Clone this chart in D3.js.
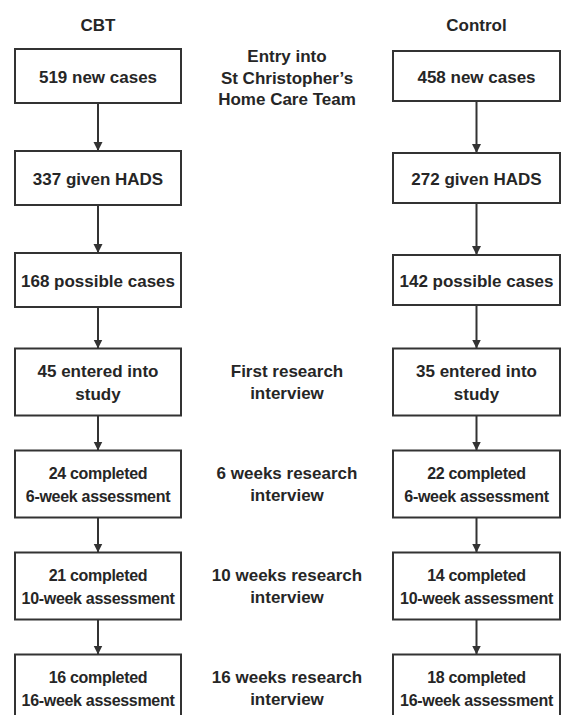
<!DOCTYPE html>
<html>
<head>
<meta charset="utf-8">
<script src="https://cdn.jsdelivr.net/npm/d3@7"></script>
<style>
  html, body { margin: 0; padding: 0; background: #fff; }
  svg { display: block; }
  text { font-family: "Liberation Sans", Arial, sans-serif; font-weight: bold; fill: #262626; }
</style>
</head>
<body>
<svg id="chart" width="561" height="715"></svg>
<script>
// ---- data ----
const groups = ["CBT", "Control"];
const cbtCounts = [519, 337, 168, 45, 24, 21, 16];
const controlCounts = [458, 272, 142, 35, 22, 14, 18];
const boxTemplates = [
  ["{n} new cases"],
  ["{n} given HADS"],
  ["{n} possible cases"],
  ["{n} entered into", "study"],
  ["{n} completed", "6-week assessment"],
  ["{n} completed", "10-week assessment"],
  ["{n} completed", "16-week assessment"]
];
const stageLabels = [
  ["Entry into", "St Christopher\u2019s", "Home Care Team"],
  [],
  [],
  ["First research", "interview"],
  ["6 weeks research", "interview"],
  ["10 weeks research", "interview"],
  ["16 weeks research", "interview"]
];

// ---- layout ----
const svg = d3.select("#chart");
const rows = d3.range(boxTemplates.length);
const yRow = d3.scaleLinear().domain([0, rows.length - 1]).range([76, 688]);
const xCol = d3.scaleOrdinal().domain(["CBT", "mid", "Control"]).range([98, 287, 476.5]);
const boxW = { CBT: 166, Control: 167 };
const singleH = { CBT: 54, Control: 50 };
const doubleH = 67;
const lineGap = 23;
const ink = "#333";

function boxHeight(g, i) { return boxTemplates[i].length > 1 ? doubleH : singleH[g]; }

// arrow marker
svg.append("defs").append("marker")
  .attr("id", "arrow").attr("viewBox", "0 0 10 10")
  .attr("refX", 10).attr("refY", 5)
  .attr("markerWidth", 9).attr("markerHeight", 10)
  .attr("markerUnits", "userSpaceOnUse")
  .attr("orient", "auto")
  .append("path").attr("d", "M0,0 L10,5 L0,10 Z").attr("fill", ink);

// headers
svg.selectAll("text.header").data(groups).join("text")
  .attr("class", "header")
  .attr("x", g => xCol(g)).attr("y", 25)
  .attr("text-anchor", "middle").attr("dominant-baseline", "central")
  .attr("font-size", 17)
  .text(g => g);

const seriesData = groups.map(g => ({
  g, counts: g === "CBT" ? cbtCounts : controlCounts
}));

seriesData.forEach(({ g, counts }) => {
  const col = svg.append("g");
  const cx = xCol(g);
  const boxes = rows.map(i => {
    const h = boxHeight(g, i);
    return { i, cx, cy: yRow(i), w: boxW[g], h,
      lines: boxTemplates[i].map(t => t.replace("{n}", counts[i])) };
  });

  // arrows
  col.selectAll("line.arrow").data(boxes.slice(0, -1)).join("line")
    .attr("x1", d => d.cx).attr("x2", d => d.cx)
    .attr("y1", d => d.cy + d.h / 2)
    .attr("y2", d => boxes[d.i + 1].cy - boxes[d.i + 1].h / 2)
    .attr("stroke", ink).attr("stroke-width", 2)
    .attr("marker-end", "url(#arrow)");

  // boxes
  col.selectAll("rect").data(boxes).join("rect")
    .attr("x", d => d.cx - d.w / 2).attr("y", d => d.cy - d.h / 2)
    .attr("width", d => d.w).attr("height", d => d.h)
    .attr("fill", "#fff").attr("stroke", ink).attr("stroke-width", 2);

  // box texts
  col.selectAll("g.lbl").data(boxes).join("g")
    .each(function (d) {
      const n = d.lines.length;
      d3.select(this).selectAll("text").data(d.lines).join("text")
        .attr("x", d.cx)
        .attr("y", (t, k) => d.cy + (k - (n - 1) / 2) * lineGap + 1)
        .attr("text-anchor", "middle").attr("dominant-baseline", "central")
        .attr("font-size", d.i >= 4 ? 16 : 17)
        .attr("letter-spacing", d.i >= 4 ? -0.3 : 0)
        .text(t => t);
    });
});

// stage labels in the middle
const stageY = [78, null, null, 387, 487, 588, 689];
svg.selectAll("g.stage").data(stageLabels).join("g")
  .each(function (lines, i) {
    const n = lines.length;
    const gap = n > 2 ? 21.5 : 22;
    d3.select(this).selectAll("text").data(lines).join("text")
      .attr("x", xCol("mid"))
      .attr("y", (t, k) => yRow(i) + (i === 0 ? 2 : 0) + (k - (n - 1) / 2) * gap)
      .attr("text-anchor", "middle").attr("dominant-baseline", "central")
      .attr("font-size", 17)
      .text(t => t);
  });
</script>
</body>
</html>
